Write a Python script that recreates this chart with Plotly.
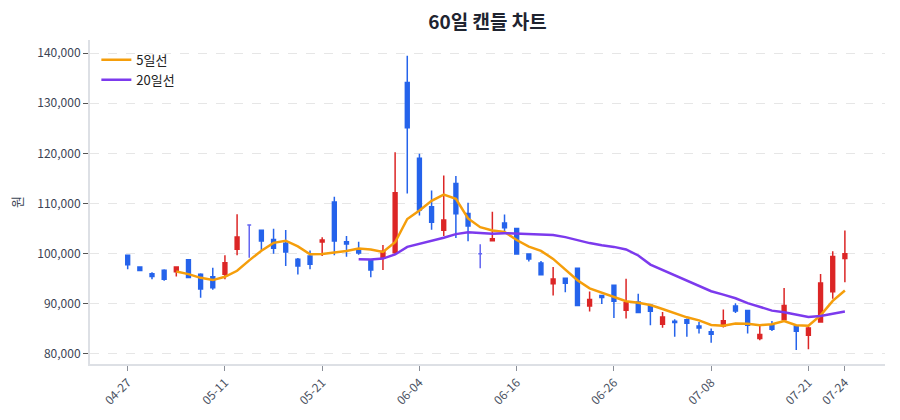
import plotly.graph_objects as go
import pandas as pd

dates = ["04-27", "04-28", "05-02", "05-03", "05-04", "05-08", "05-09", "05-10", "05-11", "05-12",
         "05-14", "05-15", "05-16", "05-17", "05-18", "05-19", "05-21", "05-22", "05-23", "05-24",
         "05-25", "05-29", "05-30", "06-01", "06-04", "06-05", "06-07", "06-08", "06-09", "06-12",
         "06-13", "06-15", "06-16", "06-18", "06-19", "06-20", "06-21", "06-22", "06-23", "06-25",
         "06-26", "06-27", "06-28", "06-29", "07-02", "07-03", "07-05", "07-06", "07-08", "07-09",
         "07-10", "07-12", "07-13", "07-14", "07-16", "07-18", "07-21", "07-22", "07-23", "07-24"]

opens = [99700, 97360, 95970, 96700, 96370, 98800, 95900, 95400, 95900, 100860,
         105700, 104690, 102840, 102100, 98880, 99540, 102320, 110290, 102390, 100860,
         98670, 99070, 100200, 134110, 119040, 109360, 104650, 114000, 108030, 100000,
         102590, 106100, 105030, 99940, 98150, 93980, 95100, 97090, 89540, 91660,
         93700, 88710, 90360, 89700, 85940, 86540, 86820, 85590, 84410, 85590,
         89540, 88680, 83090, 85850, 86840, 85590, 83750, 86380, 92430, 99010]
highs = [99800, 97500, 96300, 96900, 97400, 98900, 96100, 97200, 99670, 107850,
         105800, 104800, 104950, 104700, 99140, 100630, 103250, 111350, 103520, 102390,
         98700, 101720, 120240, 139480, 119900, 112610, 115590, 115460, 110150, 101860,
         108360, 107820, 105100, 100000, 98550, 97360, 95100, 97160, 92460, 91800,
         93720, 94980, 92010, 89700, 88380, 86930, 87060, 86380, 85060, 88880,
         90130, 88820, 85590, 86580, 93160, 85590, 85590, 95920, 100460, 104600]
lows = [96900, 96500, 94900, 94600, 95450, 95100, 91200, 92800, 94900, 99670,
        99200, 100700, 100000, 97560, 95840, 96890, 99540, 99670, 99400, 99800,
        95290, 96750, 99870, 112010, 107630, 104780, 103520, 103120, 102460, 97080,
        102460, 104500, 99800, 98420, 95640, 91660, 92320, 89540, 88480, 89940,
        87180, 87060, 88250, 85740, 85220, 83430, 83420, 84080, 82240, 85260,
        88160, 84080, 82760, 84600, 86840, 80790, 80920, 86380, 90990, 94280]
closes = [97800, 96630, 95450, 94900, 97360, 95250, 92940, 93200, 98200, 103300,
          105700, 102500, 101100, 100330, 97560, 97910, 102720, 102520, 101920, 100130,
          96750, 100460, 112140, 125080, 108690, 106240, 106700, 107960, 105510, 100000,
          102990, 105170, 99940, 98940, 95770, 94970, 94110, 89680, 90870, 91270,
          90490, 90230, 88250, 88520, 87390, 86270, 86100, 85200, 83950, 86640,
          88550, 85720, 83880, 84930, 89670, 84540, 85200, 94150, 99410, 100000]

tick_dates = ["04-27", "05-11", "05-21", "06-04", "06-16", "06-26", "07-08", "07-21", "07-24"]

UP = "#dc2626"
DOWN = "#2563eb"
FLAT = "#6366f1"
FONT = "Noto Sans CJK KR, Noto Sans, sans-serif"

idx = list(range(len(dates)))
close_s = pd.Series(closes)
ma5 = close_s.rolling(5).mean()
ma20 = close_s.rolling(20).mean()

flat = [i for i in idx if opens[i] == closes[i]]
moving = [i for i in idx if opens[i] != closes[i]]

fig = go.Figure()
fig.add_trace(go.Candlestick(
    x=[idx[i] for i in moving],
    open=[opens[i] for i in moving], high=[highs[i] for i in moving],
    low=[lows[i] for i in moving], close=[closes[i] for i in moving],
    increasing=dict(line=dict(color=UP, width=1.5), fillcolor=UP),
    decreasing=dict(line=dict(color=DOWN, width=1.5), fillcolor=DOWN),
    showlegend=False, name="캔들",
))
fig.add_trace(go.Candlestick(
    x=[idx[i] for i in flat],
    open=[opens[i] for i in flat], high=[highs[i] for i in flat],
    low=[lows[i] for i in flat], close=[closes[i] for i in flat],
    increasing=dict(line=dict(color=FLAT, width=1.5), fillcolor=FLAT),
    decreasing=dict(line=dict(color=FLAT, width=1.5), fillcolor=FLAT),
    showlegend=False, name="보합",
))
fig.add_trace(go.Scatter(x=idx, y=ma5, mode="lines", name="5일선",
                         line=dict(color="#f59e0b", width=2.5)))
fig.add_trace(go.Scatter(x=idx, y=ma20, mode="lines", name="20일선",
                         line=dict(color="#7c3aed", width=2.5)))

tickvals = [dates.index(d) for d in tick_dates]

fig.update_layout(
    width=900, height=420,
    margin=dict(l=90, r=15, t=40, b=54),
    paper_bgcolor="white", plot_bgcolor="white",
    font=dict(family=FONT, size=12, color="#3b4454"),
    title=dict(text="<b>60일 캔들 차트</b>", x=0.5, xref="paper", xanchor="center",
               y=1 - 22 / 420, yref="container", yanchor="middle",
               font=dict(size=19, color="#1f2430")),
    boxgap=0.55,
    legend=dict(x=0.008, y=0.985, xanchor="left", yanchor="top", bgcolor="rgba(255,255,255,0)",
                font=dict(size=13, color="#222")),
    showlegend=True,
)
fig.update_xaxes(
    range=[-3.1, 62.3], tickvals=tickvals, ticktext=tick_dates, tickangle=-45,
    showgrid=False, zeroline=False, rangeslider=dict(visible=False),
    showline=True, linecolor="#dde0e5", linewidth=2,
    ticks="outside", ticklen=5, tickcolor="#8a8f98", tickfont=dict(size=12, color="#4a5262"),
)
fig.update_yaxes(
    range=[78000, 142600], tickvals=[80000, 90000, 100000, 110000, 120000, 130000, 140000],
    tickformat=",d", showgrid=True, gridcolor="#e6e6e6", griddash="dash", gridwidth=1,
    zeroline=False, showline=True, linecolor="#dde0e5", linewidth=2,
    ticks="outside", ticklen=5, tickcolor="#555",
    title=dict(text="원", standoff=12, font=dict(size=13)),
    tickfont=dict(size=12, color="#3b4454"),
)

fig.write_html("out.html")
